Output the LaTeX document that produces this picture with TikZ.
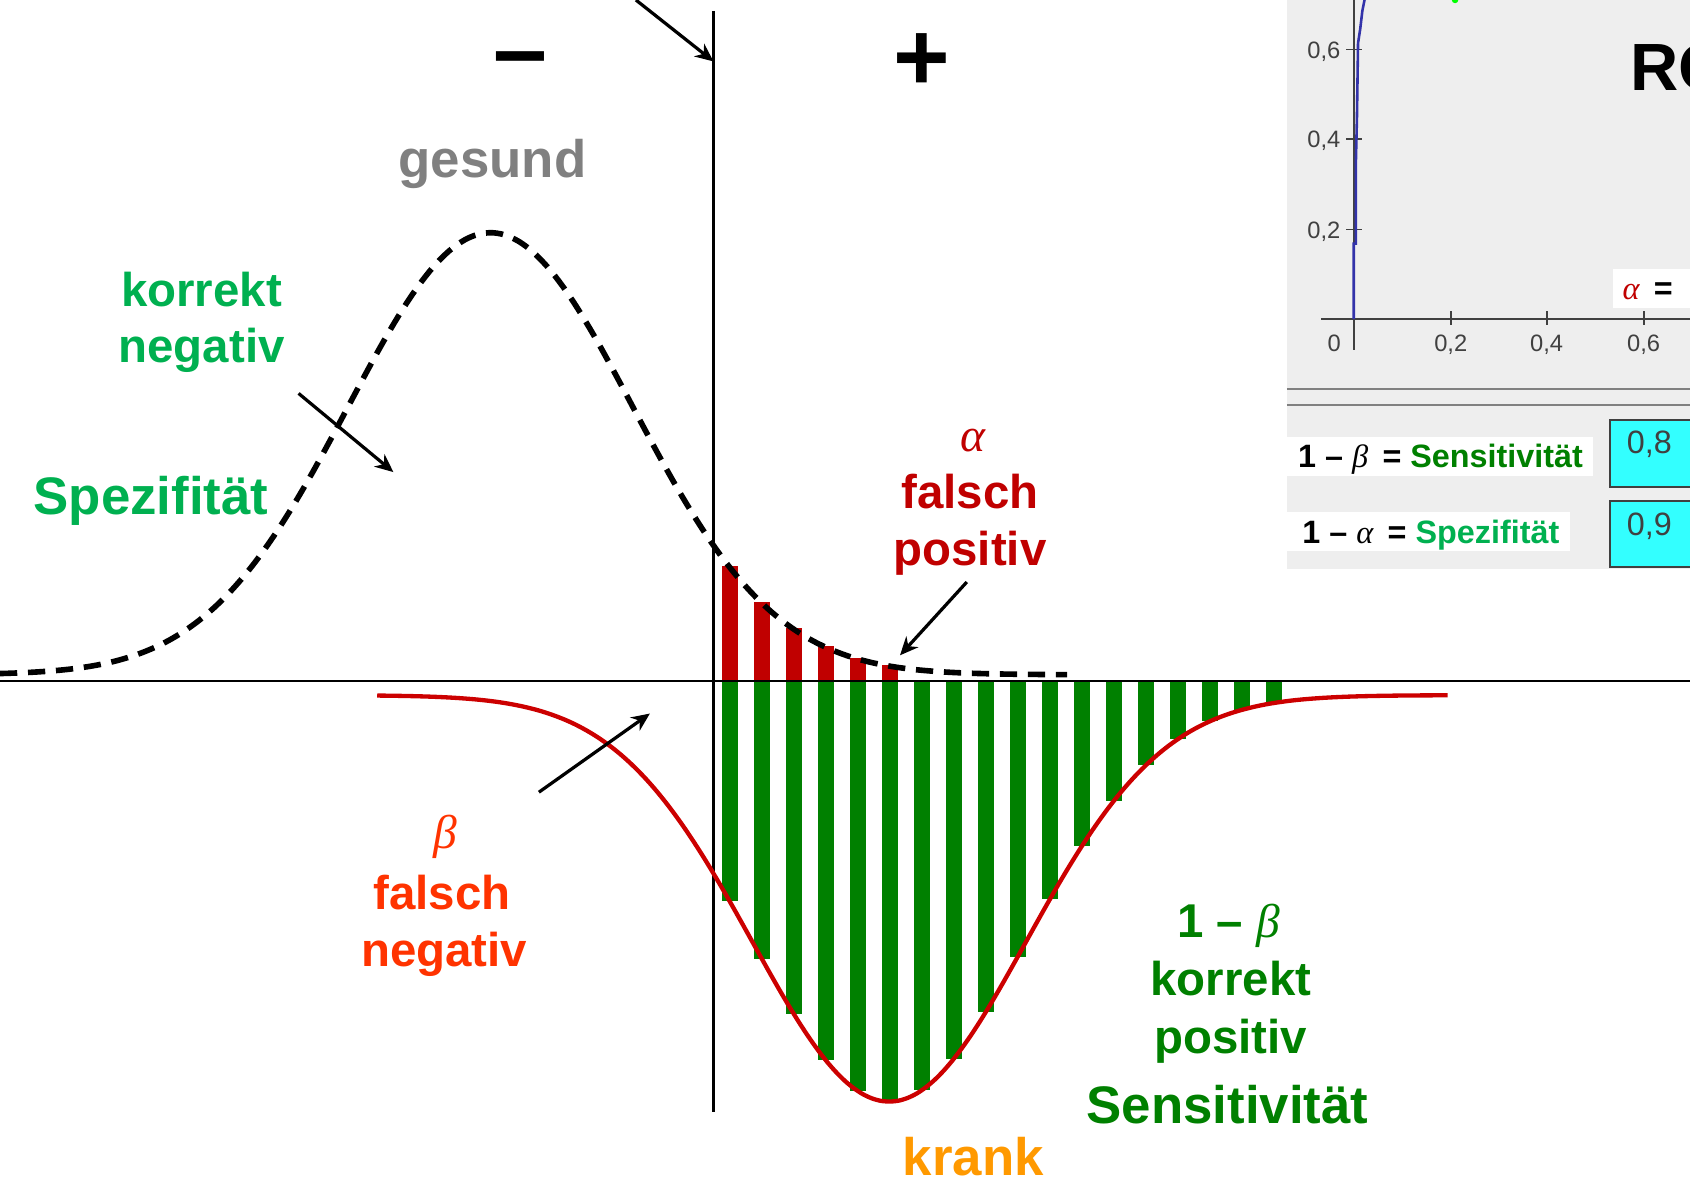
\documentclass[tikz,border=0pt]{standalone}
\usepackage{fontspec}
\setmainfont{Liberation Sans}
\newfontfamily\greekfont{Liberation Serif}
\usepackage{xcolor}
\usetikzlibrary{arrows.meta}
\definecolor{spezgreen}{HTML}{00B050}
\definecolor{sensgreen}{HTML}{008000}
\definecolor{alphared}{HTML}{C00000}
\definecolor{betared}{HTML}{FF3300}
\definecolor{krankorange}{HTML}{FF9900}
\definecolor{curvered}{HTML}{CC0000}
\definecolor{panelgray}{HTML}{EEEEEE}
\definecolor{tickgray}{HTML}{404040}
\definecolor{boxcyan}{HTML}{33FFFF}
\definecolor{rocblue}{HTML}{3333AA}
\newcommand{\gk}[1]{{\greekfont\mdseries\itshape #1}}

\begin{document}
\begin{tikzpicture}[x=0.5pt,y=-0.5pt,every node/.style={anchor=base,inner sep=0pt},
  lbl/.style={font=\fontsize{22}{26}\selectfont\bfseries},
  biglbl/.style={font=\fontsize{24.5}{29}\selectfont\bfseries},
  pointer/.style={line width=1.5pt,-{Stealth[length=8.5pt,width=7.5pt]}},
  ticklbl/.style={font=\fontsize{11}{13}\selectfont,text=tickgray},
  panellbl/.style={font=\fontsize{15}{18}\selectfont\bfseries}]
  \useasboundingbox (0,0) rectangle (1568,1097);

  % ROC inset
  \begin{scope}
    \clip (1194,0) rectangle (1568,528);
    \fill[panelgray] (1194,0) rectangle (1568,528);
    \draw[tickgray,line width=0.8pt] (1256,0) -- (1256,325);
    \draw[tickgray,line width=0.8pt] (1226,296) -- (1568,296);
    \foreach \ty/\tl in {46/{0,6},129/{0,4},213/{0,2}} {
      \draw[tickgray,line width=0.8pt] (1249,\ty) -- (1264,\ty);
      \node[ticklbl,anchor=base east] at (1244,\ty+8) {\tl};
    }
    \foreach \tx/\tl in {1346/{0,2},1435/{0,4},1525/{0,6}} {
      \draw[tickgray,line width=0.8pt] (\tx,289) -- (\tx,302);
      \node[ticklbl] at (\tx,326) {\tl};
    }
    \node[ticklbl] at (1238,326) {0};
    \draw[rocblue,line width=1.2pt] (1256,296) -- (1256,226) -- (1258,226) -- (1258,150)
      -- (1259,108) -- (1260,40) -- (1262,27) -- (1264,10) -- (1266,0);
    \fill[green] (1350,0) circle (3);
    \node[font=\fontsize{31}{36}\selectfont\bfseries,anchor=base west] at (1512,84) {ROC};
    \fill[white] (1497,250) rectangle (1568,286);
    \node[panellbl,anchor=base west] at (1505,278) {\textcolor{alphared}{\gk{α}}\, = };
    \draw[gray,line width=0.9pt] (1194,361) -- (1568,361);
    \draw[gray,line width=0.9pt] (1194,376) -- (1568,376);
    \fill[white] (1194,405) rectangle (1478,442);
    \node[panellbl,anchor=base west] (sensrow) at (1204,434) {1 – \gk{β}\, = \textcolor{sensgreen}{Sensitivität}};
    \fill[white] (1194,475) rectangle (1457,511);
    \node[panellbl,anchor=base west] (spezrow) at (1208,504) {1 – \gk{α}\, = \textcolor{spezgreen}{Spezifität}};
    \draw[fill=boxcyan,draw=tickgray,line width=1pt] (1494,390) rectangle (1580,452);
    \draw[fill=boxcyan,draw=tickgray,line width=1pt] (1494,465) rectangle (1580,526);
    \node[ticklbl,font=\fontsize{15}{18}\selectfont,anchor=base west] at (1509,421) {0,8};
    \node[ticklbl,font=\fontsize{15}{18}\selectfont,anchor=base west] at (1509,497) {0,9};
  \end{scope}

  % bars
  \foreach \i in {0,...,5} {
    \pgfmathsetmacro\bx{677+29.7*\i}
    \pgfmathsetmacro\by{625-410*exp(-0.5*((\bx-455)/132)^2)}
    \fill[alphared] (\bx-7.5,632) rectangle (\bx+7.5,\by);
  }
  \foreach \i in {0,...,17} {
    \pgfmathsetmacro\bx{677+29.7*\i}
    \pgfmathsetmacro\by{645+377*exp(-0.5*((\bx-825)/127)^2)}
    \fill[sensgreen] (\bx-7.5,632) rectangle (\bx+7.5,\by);
  }

  % axes
  \draw[line width=1pt] (0,632) -- (1568,632);
  \draw[line width=1pt] (662,10) -- (662,1032);

  % curves
  \draw[line width=2.6pt,dash pattern=on 8pt off 5pt]
    plot[domain=0:990,samples=120,smooth] (\x,{626-410*exp(-0.5*((\x-455)/132)^2)});
  \draw[curvered,line width=2pt]
    plot[domain=350:1343,samples=120,smooth] (\x,{645+377*exp(-0.5*((\x-825)/127)^2)});

  % signs
  \node[font=\fontsize{45}{50}\selectfont\bfseries] (minus) at (483,77) {–};
  \node[font=\fontsize{45}{50}\selectfont\bfseries] (plus) at (855,84) {+};

  % labels
  \node[biglbl,text=gray] (gesund) at (457,165) {gesund};
  \node[lbl,text=spezgreen] (korrekt) at (187,284) {korrekt};
  \node[lbl,text=spezgreen] (negativ) at (187,336) {negativ};
  \node[biglbl,text=spezgreen] (spez) at (140,477) {Spezifität};
  \node[lbl,text=alphared] (alpha) at (903,419) {\gk{α}};
  \node[lbl,text=alphared] (falschpos) at (900,472) {falsch};
  \node[lbl,text=alphared] (positiv) at (900,525) {positiv};
  \node[lbl,text=betared] (beta) at (413,787) {\gk{β}};
  \node[lbl,text=betared] (falschneg) at (410,844) {falsch};
  \node[lbl,text=betared] (negneg) at (412,897) {negativ};
  \node[lbl,text=sensgreen] (einsbeta) at (1140,870) {1 – \gk{β}};
  \node[lbl,text=sensgreen] (korpos) at (1142,924) {korrekt};
  \node[lbl,text=sensgreen] (pospos) at (1142,977) {positiv};
  \node[biglbl,text=sensgreen] (sens) at (1139,1042) {Sensitivität};
  \node[biglbl,text=krankorange] (krank) at (903,1091) {krank};

  % pointers
  \coordinate (cut-tail) at (590,0);
  \coordinate (cut-tip) at (662,57);
  \coordinate (tn-tail) at (277,365);
  \coordinate (tn-tip) at (365,438);
  \coordinate (fn-tail) at (500,735);
  \coordinate (fn-tip) at (603,662);
  \coordinate (fp-tail) at (897,540);
  \coordinate (fp-tip) at (835,608);
  \draw[pointer] (cut-tail) -- (cut-tip);
  \draw[pointer] (tn-tail) -- (tn-tip);
  \draw[pointer] (fn-tail) -- (fn-tip);
  \draw[pointer] (fp-tail) -- (fp-tip);
\end{tikzpicture}
\end{document}
